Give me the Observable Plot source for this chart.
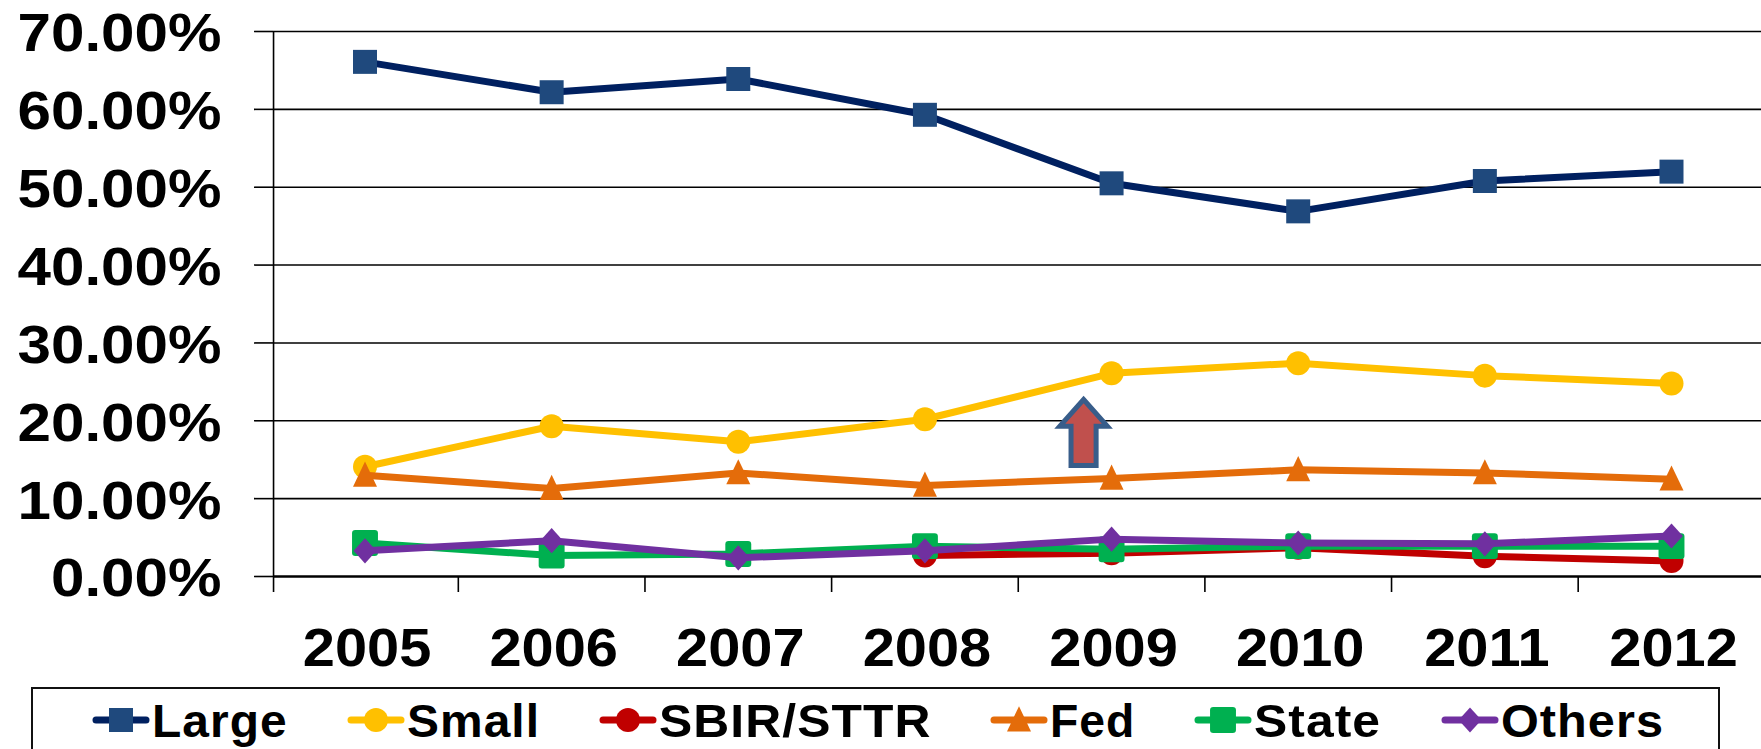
<!DOCTYPE html>
<html><head><meta charset="utf-8">
<script src="https://cdn.jsdelivr.net/npm/d3@7"></script>
<script src="https://cdn.jsdelivr.net/npm/@observablehq/plot@0.6"></script>
<style>
html,body{margin:0;padding:0;background:#fff;width:1761px;height:749px;overflow:hidden;font-family:"Liberation Sans",Arial,sans-serif;position:relative}
#chart svg{display:block;overflow:hidden}
#legend{position:absolute;left:31px;top:687px;width:1689px;height:80px;border:2px solid #111;box-sizing:border-box;display:flex;gap:60px;padding-left:60px;align-items:flex-start}
.item{display:flex;align-items:flex-start;height:60px}
.item svg{width:56px;height:60px;margin-right:3px;flex:none;display:block;overflow:visible}
.label{display:inline-block;font:bold 47px "Liberation Sans",Arial,sans-serif;letter-spacing:1px;white-space:nowrap;transform-origin:0 0;line-height:52px;margin-top:6px;color:#000}
.lw{display:block;height:60px}
</style></head><body>
<div id="chart"></div><div id="legend"></div>
<script>
const years = [2005,2006,2007,2008,2009,2010,2011,2012];
const edges = [2004.51,2005.5,2006.5,2007.5,2008.5,2009.5,2010.5,2011.5];
const yTicks = [0,10,20,30,40,50,60,70];
const large  = [66.1,62.2,63.9,59.3,50.5,46.9,50.8,52.0];
const small  = [14.1,19.3,17.3,20.2,26.1,27.4,25.8,24.8];
const sbir   = [null,null,null,2.7,3.0,3.7,2.6,2.0];
const fed    = [13.0,11.3,13.3,11.7,12.6,13.7,13.3,12.5];
const state  = [4.3,2.7,2.9,3.9,3.5,3.9,3.9,3.9];
const others = [3.3,4.6,2.4,3.3,4.8,4.3,4.2,5.2];
const arrowAt = [{year:2009, value:18.5}];

const rOf = s => Math.sqrt(s/Math.PI);
const sqSym = {draw(c,s){const r=rOf(s);c.rect(-r,-r,2*r,2*r);}};
const circSym = {draw(c,s){const r=rOf(s);c.moveTo(r,0);c.arc(0,0,r,0,2*Math.PI);}};
const triSym = {draw(c,s){const r=rOf(s);c.moveTo(0,-r*1.15);c.lineTo(r,r*0.95);c.lineTo(-r,r*0.95);c.closePath();}};
const diaSym = {draw(c,s){const r=rOf(s);c.moveTo(0,-r*1.05);c.lineTo(r*.95,0);c.lineTo(0,r*1.05);c.lineTo(-r*.95,0);c.closePath();}};
const roundSym = {draw(c,s){const r=rOf(s)*1.08,q=r*.25;c.moveTo(-r+q,-r);c.arcTo(r,-r,r,r,q);c.arcTo(r,r,-r,r,q);c.arcTo(-r,r,-r,-r,q);c.arcTo(-r,-r,r,-r,q);c.closePath();}};
const arrowSym = {draw(c,s){const r=rOf(s);c.moveTo(0,-r);c.lineTo(.72*r,-.19*r);c.lineTo(.38*r,-.19*r);c.lineTo(.38*r,r);c.lineTo(-.38*r,r);c.lineTo(-.38*r,-.19*r);c.lineTo(-.72*r,-.19*r);c.closePath();}};

const seriesDefs = [
 {name:"Large",values:large,line:"#002060",fill:"#1F497D",sym:sqSym,k:1.02},
 {name:"Small",values:small,line:"#FFC000",fill:"#FFC000",sym:circSym,k:1.02},
 {name:"SBIR/STTR",values:sbir,line:"#C00000",fill:"#C00000",sym:circSym,k:1.06},
 {name:"Fed",values:fed,line:"#E46C0A",fill:"#E46C0A",sym:triSym,k:0.985},
 {name:"State",values:state,line:"#00B050",fill:"#00B050",sym:roundSym,k:1.06},
 {name:"Others",values:others,line:"#7030A0",fill:"#7030A0",sym:diaSym,k:1.035}
];

const marks = [
  Plot.ruleY(yTicks.slice(1),{stroke:"#000",strokeWidth:1.6}),
  Plot.ruleY([0],{stroke:"#000",strokeWidth:2.6}),
  Plot.ruleX([edges[0]],{stroke:"#000",strokeWidth:1.6}),
  Plot.axisX({ticks:edges,tickSize:16,tickFormat:()=>"",stroke:"#000",strokeWidth:1.6,label:null}),
  Plot.axisX({ticks:years,tickSize:0,tickPadding:52,dx:2,tickFormat:d=>String(d),fontSize:53,fontWeight:"bold",fontFamily:"Liberation Sans",fill:"#000",label:null}),
  Plot.axisY({ticks:yTicks,tickSize:19,tickFormat:()=>"",stroke:"#000",strokeWidth:1.6,label:null}),
  Plot.axisY({ticks:yTicks,tickSize:0,tickPadding:33,dx:-19,dy:3,tickFormat:d=>d.toFixed(2)+"%",fontSize:53,fontWeight:"bold",fontFamily:"Liberation Sans",fill:"#000",label:null}),
];
for (const s of seriesDefs){
  marks.push(Plot.line(s.values,{x:years,y:d=>d,stroke:s.line,strokeWidth:7,curve:"linear"}));
  marks.push(Plot.dot(s.values,{x:years,y:d=>d,symbol:()=>s.sym,r:12,fill:s.fill,stroke:"none"}));
}
marks.push(Plot.dot(arrowAt,{x:"year",y:"value",dx:-28,symbol:()=>arrowSym,r:33,fill:"#C0504D",stroke:"#385D8A",strokeWidth:5}));

const chart = Plot.plot({
  width:1761,height:680,marginLeft:273,marginRight:0,marginTop:31,marginBottom:104,
  style:{background:"#fff",overflow:"hidden"},
  x:{type:"linear",domain:[2005,2012],range:[364.5,1671],label:null},
  y:{domain:[0,70],label:null},
  marks
});
document.getElementById("chart").append(chart);

function stretch(sel,k){
  sel.each(function(){const l=this.getComputedTextLength();this.setAttribute("textLength",l*k);this.setAttribute("lengthAdjust","spacingAndGlyphs");});
}
const texts=d3.select(chart).selectAll("text");
texts.filter(function(){return /%$/.test(this.textContent)}).call(stretch,1.135);
texts.filter(function(){return /^\d{4}$/.test(this.textContent)}).call(stretch,1.09);

const legend=d3.select("#legend");
for(const s of seriesDefs){
  const it=legend.append("div").attr("class","item");
  const sv=it.append("svg").attr("viewBox","0 0 56 60");
  sv.append("line").attr("x1",3).attr("x2",53).attr("y1",31).attr("y2",31).attr("stroke",s.line).attr("stroke-width",7).attr("stroke-linecap","round");
  sv.append("path").attr("d",d3.symbol(s.sym,Math.PI*144)()).attr("transform","translate(28,31)").attr("fill",s.fill);
  const w=it.append("span").attr("class","lw");
  const t=w.append("span").attr("class","label").text(s.name);
  const n=t.node().getBoundingClientRect().width;
  w.style("width",(n*s.k)+"px");
  t.style("transform",`scaleX(${s.k})`);
}
</script></body></html>
